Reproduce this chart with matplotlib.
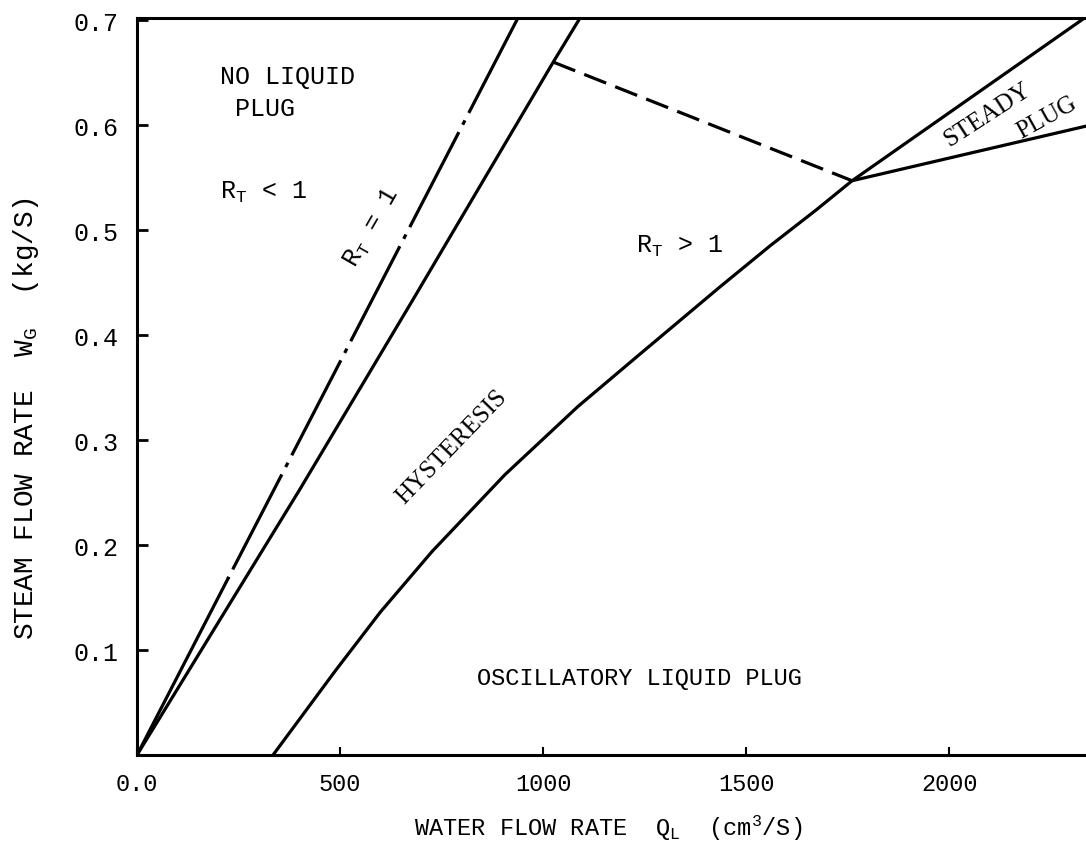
import matplotlib
matplotlib.use("Agg")
import matplotlib.pyplot as plt

plt.rcParams['font.family'] = ['Liberation Mono', 'DejaVu Sans']
plt.rcParams['mathtext.fontset'] = 'custom'
plt.rcParams['mathtext.rm'] = 'Liberation Mono'
plt.rcParams['mathtext.it'] = 'Liberation Mono'
plt.rcParams['lines.scale_dashes'] = False

# --- boundary curves (Q_L in cm^3/s, W_G in kg/s)
# R_T = 1 (dash-dot upper part, solid near the origin), listed top -> bottom
q_rt1 = [938, 224, 0]
w_rt1 = [0.702, 0.168, 0.0]
rt1_break = 1

# hysteresis upper boundary
q_hyst = [0, 401, 680, 1025, 1091]
w_hyst = [0.0, 0.253, 0.434, 0.660, 0.702]

# oscillatory / steady boundary (lower solid curve)
q_osc = [335, 488, 599, 727, 906, 1086, 1239, 1436, 1559, 1672, 1761, 2337]
w_osc = [0.0, 0.080, 0.136, 0.194, 0.267, 0.332, 0.382, 0.446, 0.485,
         0.519, 0.547, 0.703]

# dashed connecting line
q_dash = [1025, 1761]
w_dash = [0.660, 0.547]

# steady plug lower boundary
q_steady = [1761, 2337]
w_steady = [0.547, 0.599]

x_ticks = [0, 500, 1000, 1500, 2000]
x_ticklabels = ['0.0', '500', '1000', '1500', '2000']
y_ticks = [0.1, 0.2, 0.3, 0.4, 0.5, 0.6, 0.7]

fig = plt.figure(figsize=(10.86, 8.53), dpi=100)
ax = fig.add_axes([137 / 1086, 1 - 756 / 853, 949 / 1086, 737 / 853])

lw = 2.3
ax.plot(q_rt1[:rt1_break + 1], w_rt1[:rt1_break + 1], color='k', lw=lw,
        dashes=(77, 6, 3.5, 6), dash_capstyle='butt')
ax.plot(q_rt1[rt1_break:], w_rt1[rt1_break:], color='k', lw=lw)
ax.plot(q_hyst, w_hyst, color='k', lw=lw)
ax.plot(q_osc, w_osc, color='k', lw=lw)
ax.plot(q_dash, w_dash, color='k', lw=lw, dashes=(17, 7))
ax.plot(q_steady, w_steady, color='k', lw=lw)

ax.set_xlim(0, 2337)
ax.set_ylim(0, 0.702)

ax.set_xticks(x_ticks)
ax.set_xticklabels(x_ticklabels, fontsize=17)
ax.set_yticks(y_ticks)
ax.set_yticklabels([f'{v:.1f}' for v in y_ticks], fontsize=18)
ax.tick_params(axis='x', direction='in', length=6, width=1.5, pad=12)
ax.tick_params(axis='y', direction='in', length=8, width=2, pad=13)

for side in ['left', 'bottom', 'top']:
    ax.spines[side].set_linewidth(2.2)
ax.spines['right'].set_visible(False)

fig.text(608 / 1086, 1 - 828 / 853,
         r'WATER FLOW RATE  $\mathrm{Q_L}$  (cm$^\mathrm{3}$/S)',
         ha='center', va='center', fontsize=17)
fig.text(26 / 1086, 1 - 418 / 853,
         r'STEAM FLOW RATE  $\mathrm{W_G}$  (kg/S)',
         ha='center', va='center', fontsize=20, rotation=90)

def px(x, y):
    return (x / 1086, 1 - y / 853)

txt = dict(ha='center', va='center', transform=fig.transFigure)
ax.text(*px(288, 77), 'NO LIQUID', fontsize=18, **txt)
ax.text(*px(265, 109), 'PLUG', fontsize=18, **txt)
ax.text(*px(264, 192), r'$\mathrm{R_T}$ < 1', fontsize=18, **txt)
ax.text(*px(372, 228), r'$\mathrm{R_T}$ = 1', fontsize=18, rotation=60, **txt)
ax.text(*px(680, 246), r'$\mathrm{R_T}$ > 1', fontsize=18, **txt)
ax.text(*px(639, 678), 'OSCILLATORY LIQUID PLUG', fontsize=17, **txt)
ax.text(*px(452, 447), 'HYSTERESIS', fontsize=18, rotation=46,
        family='Liberation Serif', **txt)
ax.text(*px(988, 115), 'STEADY', fontsize=18, rotation=33,
        family='Liberation Serif', **txt)
ax.text(*px(1047, 118), 'PLUG', fontsize=18, rotation=29,
        family='Liberation Serif', **txt)

fig.savefig('out.png', dpi=100)
